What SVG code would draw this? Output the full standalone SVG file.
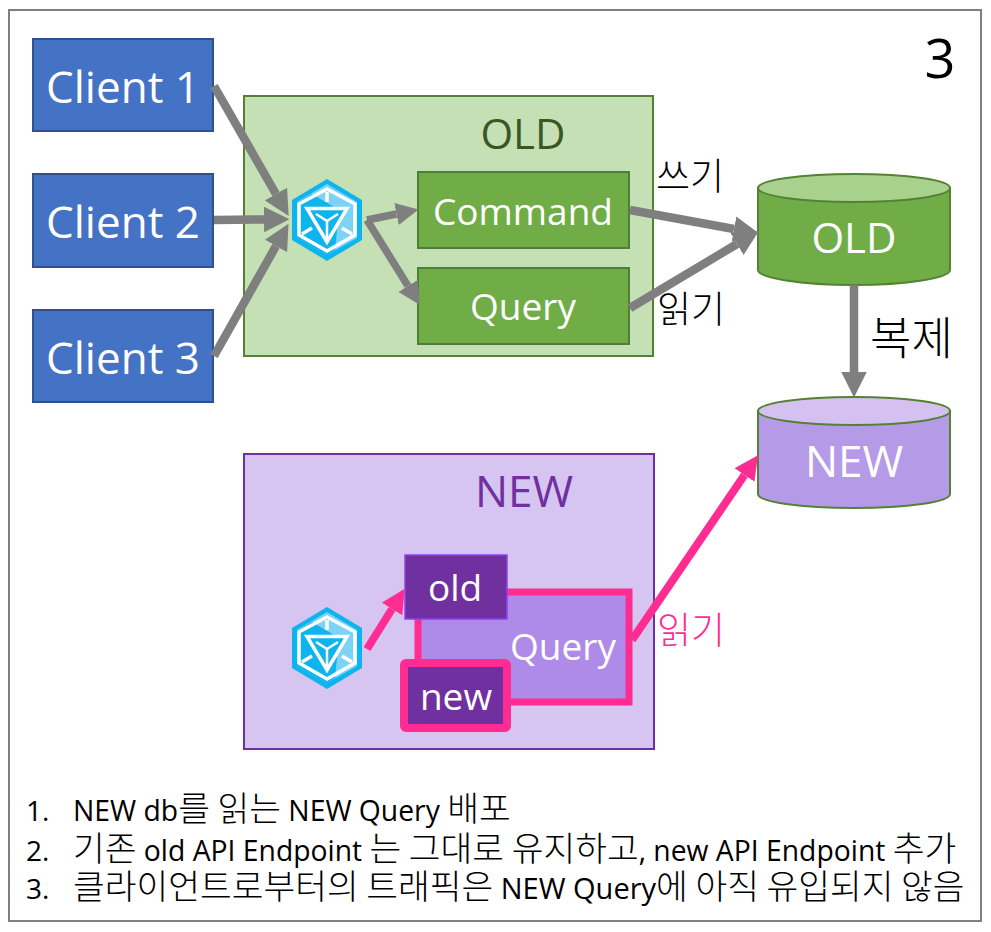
<svg xmlns="http://www.w3.org/2000/svg" width="991" height="932" viewBox="0 0 991 932">
<style>
text{font-family:"Open Sans","Noto Sans CJK KR",sans-serif}
.c{text-anchor:middle}
.w{fill:#fff}
.client{fill:#4472c4;stroke:#2f528f;stroke-width:2}
.g{fill:#70ad47;stroke:#507e32;stroke-width:2}
.ko{font-family:"Noto Sans CJK KR",sans-serif;font-size:37px;font-weight:300}
.li{font-size:29px;fill:#000}
.k{font-family:"Noto Sans CJK KR",sans-serif;font-size:34.500px;font-weight:300}
.a{fill:none;stroke:#7f7f7f;stroke-width:8.500}
.s{fill:none;stroke:#7f7f7f;stroke-width:7.500}
.p{fill:none;stroke:#ff2d92;stroke-width:8}
</style>
<defs>
<marker id="ag" viewBox="0 0 10 10" refX="0" refY="5" markerWidth="3" markerHeight="3" orient="auto"><path d="M0 0L10 5L0 10Z" fill="#7f7f7f"/></marker>
<marker id="ap" viewBox="0 0 10 10" refX="0" refY="5" markerWidth="3" markerHeight="3" orient="auto"><path d="M0 0L10 5L0 10Z" fill="#ff2d92"/></marker>
<g id="icon">
<polygon points="0,-41 35,-20 35,20 0,41 -35,20 -35,-20" fill="#0db4ee"/>
<polygon points="0,-36 30,-18 30,18 0,35 -30,18 -30,-18" fill="#7dd3f6"/>
<polygon points="-30,-17 -15,-26 12,-10 8,30 0,35 -30,18" fill="#0db4ee"/>
<polygon points="0,-31 28,-16 28,15 0,31 -28,15 -28,-16" fill="none" stroke="#fff" stroke-width="3.500"/>
<polygon points="-20,-11.500 20,-11.500 0,22" fill="#0db4ee" stroke="#fff" stroke-width="3.500"/>
<path d="M-11,-6L0,1L11,-6M0,1V18" fill="none" stroke="#fff" stroke-width="2.500"/>
<path d="M0-28V-18M-25,14L-15,8M25,14L15,8" fill="none" stroke="#fff" stroke-width="3.500"/>
</g>
</defs>
<rect x="9" y="10" width="972" height="911" fill="#fff" stroke="#7f7f7f" stroke-width="2"/>
<text x="940" y="78" class="c" font-size="54" fill="#000">3</text>

<g id="old-box"><rect x="244" y="96" width="409" height="260" fill="#c5e0b4" stroke="#548235" stroke-width="2"/><text x="523" y="149" class="c" font-size="42" fill="#385723">OLD</text></g>
<g id="new-box"><rect x="244" y="454" width="410" height="295" fill="#d5c5f0" stroke="#7030a0" stroke-width="2"/><text x="524" y="507" class="c" font-size="44" fill="#7030a0">NEW</text></g>

<g id="client-1"><rect class="client" x="33" y="39" width="180" height="92"/><text x="123" y="103" class="c w" font-size="44">Client 1</text></g>
<g id="client-2"><rect class="client" x="33" y="174" width="180" height="93"/><text x="123" y="238" class="c w" font-size="44">Client 2</text></g>
<g id="client-3"><rect class="client" x="33" y="310" width="180" height="92"/><text x="123" y="374" class="c w" font-size="44">Client 3</text></g>

<g id="gateway-old"><use href="#icon" x="327" y="220"/></g>
<g id="command"><rect class="g" x="418" y="172" width="211" height="76"/><text x="523" y="225" class="c w" font-size="37">Command</text></g>
<g id="query-old"><rect class="g" x="418" y="268" width="211" height="76"/><text x="523" y="320" class="c w" font-size="37">Query</text></g>

<g id="db-old">
<path d="M758 188V270C758 278 801 285 854 285S950 278 950 270V188Z" fill="#70ad47" stroke="#548235" stroke-width="2"/>
<ellipse cx="854" cy="188" rx="96" ry="14" fill="#a9d18e" stroke="#548235" stroke-width="2"/>
<text x="854" y="253" class="c w" font-size="42">OLD</text>
</g>
<g id="db-new">
<path d="M758 411V494C758 502 801 508 854 508S950 502 950 494V411Z" fill="#b59ae8" stroke="#548235" stroke-width="2"/>
<ellipse cx="854" cy="411" rx="96" ry="14" fill="#d5c0f2" stroke="#548235" stroke-width="2"/>
<text x="854" y="477" class="c w" font-size="44">NEW</text>
</g>

<g id="gateway-new"><use href="#icon" x="327" y="648"/></g>
<g id="query-new"><rect x="418" y="592" width="211" height="110" fill="#ae8be8" stroke="#ff2d92" stroke-width="7"/><text x="563" y="660" class="c w" font-size="37">Query</text></g>
<g id="old-endpoint"><rect x="405" y="555" width="102" height="64" fill="#7030a0" stroke="#9040ee" stroke-width="1.500"/><text x="455" y="601" class="c w" font-size="37">old</text></g>
<g id="new-endpoint"><rect x="404" y="663" width="103" height="65" rx="2" fill="#7030a0" stroke="#ff2d92" stroke-width="8"/><text x="456" y="710" class="c w" font-size="37">new</text></g>

<g id="connectors">
<line class="a" x1="214" y1="86" x2="276" y2="194" marker-end="url(#ag)"/>
<line class="a" x1="214" y1="220" x2="264" y2="219.500" marker-end="url(#ag)"/>
<line class="a" x1="214" y1="356" x2="276" y2="246" marker-end="url(#ag)"/>
<line class="s" x1="367" y1="220" x2="396.500" y2="214" marker-end="url(#ag)"/>
<line class="s" x1="367" y1="220" x2="408" y2="286" marker-end="url(#ag)"/>
<line class="a" x1="630" y1="210" x2="734" y2="229" marker-end="url(#ag)"/>
<line class="a" x1="630" y1="308" x2="737" y2="244" marker-end="url(#ag)"/>
<line class="a" x1="854" y1="285" x2="854" y2="372" marker-end="url(#ag)"/>
<line class="p" x1="367" y1="649" x2="392" y2="609" marker-end="url(#ap)"/>
<line class="p" x1="632" y1="640" x2="744.500" y2="475" marker-end="url(#ap)"/>
</g>

<g id="labels">
<text class="ko" x="656" y="190">쓰기</text>
<text class="ko" x="657" y="323">읽기</text>
<text class="ko" x="870" y="355" style="font-size:45px">복제</text>
<text class="ko" x="657" y="644" fill="#ff2d92">읽기</text>
</g>

<g id="notes">
<text class="li" x="26" y="821" style="font-size:28px">1.</text><text class="li" x="73" y="821" style="font-size:28.300px">NEW db<tspan class="k">를 읽는</tspan> NEW Query <tspan class="k">배포</tspan></text>
<text class="li" x="26" y="861" style="font-size:28px">2.</text><text class="li" x="73" y="861" style="font-size:28.300px"><tspan class="k">기존</tspan> old API Endpoint <tspan class="k">는 그대로 유지하고</tspan>, new API Endpoint <tspan class="k">추가</tspan></text>
<text class="li" x="26" y="899" style="font-size:28px">3.</text><text class="li" x="73" y="899"><tspan class="k">클라이언트로부터의 트래픽은</tspan> NEW Query<tspan class="k">에 아직 유입되지 않음</tspan></text>
</g>
</svg>
